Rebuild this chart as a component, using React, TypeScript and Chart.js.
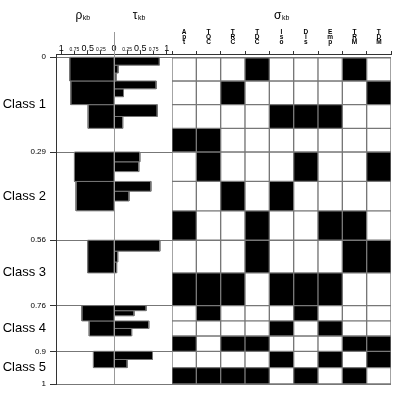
import React, { useEffect, useRef } from 'react';
import { Chart, registerables } from 'chart.js';

Chart.register(...registerables);

// ---- data ----
const classBounds = [0, 0.29, 0.56, 0.76, 0.9, 1];
const classNames = ['Class 1', 'Class 2', 'Class 3', 'Class 4', 'Class 5'];

// row boundaries (start, end) inside the classes
const rowStarts = [0, 0.0725, 0.145, 0.2175, 0.29, 0.38, 0.47, 0.56, 0.66, 0.76, 0.807, 0.853, 0.9, 0.95];
const rowEnds = [0.0725, 0.145, 0.2175, 0.29, 0.38, 0.47, 0.56, 0.66, 0.76, 0.807, 0.853, 0.9, 0.95, 1];

// rho per row (null = no bar)
const rhoValues = [0.84, 0.82, 0.49, null, 0.75, 0.72, null, 0.5, null, 0.61, 0.47, null, 0.39, null];

// tau per row: one sub-bar per category
const tauValues: number[][] = [
  [0.86, 0.08, 0.04],
  [0.8, 0.18, 0],
  [0.82, 0.165],
  [],
  [0.49, 0.47, 0],
  [0.7, 0.285, 0],
  [],
  [0.87, 0.07, 0.05],
  [],
  [0.61, 0.38, 0],
  [0.66, 0.335],
  [],
  [0.73, 0.25],
  [],
];

const sigmaCols = ['Apt', 'TOC', 'TRC', 'TDC', 'Iso', 'Dis', 'Emp', 'TRM', 'TDM'];
const sigmaRows = [
  [0, 0, 0, 1, 0, 0, 0, 1, 0],
  [0, 0, 1, 0, 0, 0, 0, 0, 1],
  [0, 0, 0, 0, 1, 1, 1, 0, 0],
  [1, 1, 0, 0, 0, 0, 0, 0, 0],
  [0, 1, 0, 0, 0, 1, 0, 0, 1],
  [0, 0, 1, 0, 1, 0, 0, 0, 0],
  [1, 0, 0, 1, 0, 0, 1, 1, 0],
  [0, 0, 0, 1, 0, 0, 0, 1, 1],
  [1, 1, 1, 0, 1, 1, 1, 0, 0],
  [0, 1, 0, 0, 0, 1, 0, 0, 0],
  [0, 0, 0, 0, 1, 0, 1, 0, 0],
  [1, 0, 1, 1, 0, 0, 0, 1, 1],
  [0, 0, 0, 0, 1, 0, 1, 0, 1],
  [1, 1, 1, 1, 0, 1, 0, 1, 0],
];

const probTicks = [0, 0.25, 0.5, 0.75, 1];
const minorTicks = [0.25, 0.75];

const FAMILY = "'Liberation Sans', Arial, Helvetica, sans-serif";

function rectData(v: number, y0: number, y1: number) {
  return [
    { x: 0, y: y0 },
    { x: v, y: y0 },
    { x: v, y: y1 },
    { x: 0, y: y1 },
    { x: 0, y: y0 },
  ];
}

export default function App() {
  const canvasRef = useRef<HTMLCanvasElement | null>(null);

  useEffect(() => {
    if (!canvasRef.current) return;
    Chart.defaults.font.family = FAMILY;
    Chart.defaults.color = '#000';

    // y ticks: class boundaries plus class midpoints
    const yTicks: { value: number; label: string; isClass: boolean }[] = [];
    classBounds.forEach((b, i) => {
      yTicks.push({ value: b, label: String(b), isClass: false });
      if (i < classNames.length) {
        yTicks.push({ value: (b + classBounds[i + 1]) / 2, label: classNames[i], isClass: true });
      }
    });

    const datasets: any[] = [];

    // rho bars
    rhoValues.forEach((v, i) => {
      if (v === null) return;
      datasets.push({
        type: 'line',
        xAxisID: 'xr',
        yAxisID: 'y',
        data: rectData(v, rowStarts[i], rowEnds[i]),
        fill: 'shape',
        backgroundColor: '#000',
        borderColor: '#777',
        borderWidth: 1,
        pointRadius: 0,
        tension: 0,
      });
    });

    // tau bars
    tauValues.forEach((vals, i) => {
      const n = vals.length;
      if (!n) return;
      const h = (rowEnds[i] - rowStarts[i]) / n;
      vals.forEach((v, j) => {
        datasets.push({
          type: 'line',
          xAxisID: 'xt',
          yAxisID: 'y',
          data: rectData(v, rowStarts[i] + j * h, rowStarts[i] + (j + 1) * h),
          fill: 'shape',
          backgroundColor: '#000',
          borderColor: '#777',
          borderWidth: 1,
          pointRadius: 0,
          tension: 0,
        });
      });
    });

    // sigma cells
    sigmaRows.forEach((row, i) => {
      datasets.push({
        type: 'bar',
        xAxisID: 'xs',
        yAxisID: 'y',
        data: sigmaCols.map(() => [rowStarts[i], rowEnds[i]]),
        backgroundColor: row.map((v) => (v ? '#000' : '#fff')),
        borderColor: '#777',
        borderWidth: 1,
        borderSkipped: false,
        grouped: false,
        barPercentage: 1,
        categoryPercentage: 1,
      });
    });

    const headerPlugin = {
      id: 'headers',
      afterDraw(chart: any) {
        const ctx = chart.ctx;
        const top = chart.chartArea.top;
        const items: [string, number][] = [
          ['\u03c1', chart.scales.xr.getPixelForValue(0.5) - 5],
          ['\u03c4', chart.scales.xt.getPixelForValue(0.5) - 1.5],
          ['\u03c3', (chart.scales.xs.left + chart.scales.xs.right) / 2],
        ];
        ctx.save();
        ctx.fillStyle = '#000';
        ctx.textBaseline = 'alphabetic';
        ctx.textAlign = 'left';
        for (const [letter, cx] of items) {
          ctx.font = `12px ${FAMILY}`;
          const w1 = ctx.measureText(letter).width;
          ctx.font = `7px ${FAMILY}`;
          const w2 = ctx.measureText('kb').width;
          const x0 = cx - (w1 + w2) / 2;
          ctx.font = `12px ${FAMILY}`;
          ctx.fillText(letter, x0, top - 35.5);
          ctx.font = `7px ${FAMILY}`;
          ctx.fillText('kb', x0 + w1 + 0.5, top - 34);
        }
        ctx.restore();
      },
    };

    const zeroLinePlugin = {
      id: 'zeroLine',
      afterDatasetsDraw(chart: any) {
        const ctx = chart.ctx;
        const x = Math.round(chart.scales.xt.getPixelForValue(0)) + 0.5;
        ctx.save();
        ctx.strokeStyle = '#999';
        ctx.lineWidth = 1;
        ctx.beginPath();
        ctx.moveTo(x, chart.chartArea.top - 22);
        ctx.lineTo(x, chart.chartArea.bottom);
        ctx.stroke();
        ctx.restore();
      },
    };

    const probAxis = (weight: number, reverse: boolean, hideZero: boolean) => ({
      type: 'linear',
      position: 'top',
      stack: 'top',
      stackWeight: weight,
      reverse,
      min: 0,
      max: 1.1,
      offset: false,
      afterBuildTicks: (s: any) => {
        s.ticks = probTicks.map((v) => ({ value: v }));
      },
      afterFit: (s: any) => {
        s.height = 54;
      },
      ticks: {
        autoSkip: false,
        maxRotation: 0,
        padding: 0,
        color: '#000',
        callback: (v: number) => (hideZero && v === 0 ? '' : String(v)),
        font: (c: any) => {
          const minor = c.tick && minorTicks.includes(c.tick.value);
          return { size: minor ? 5 : 9, lineHeight: 0.6 };
        },
      },
      grid: { display: true, offset: false, drawOnChartArea: false, tickLength: 3, color: '#333' },
      border: { display: true, color: '#333' },
    });

    // top axes are laid out in reverse order of declaration: sigma, tau, rho
    const chart = new Chart(canvasRef.current, {
      type: 'bar',
      data: { labels: sigmaCols.map((s) => s.split('')), datasets },
      plugins: [headerPlugin, zeroLinePlugin],
      options: {
        responsive: false,
        animation: false,
        layout: { padding: { top: 0, left: 0, right: 15, bottom: 22 } },
        plugins: { legend: { display: false }, tooltip: { enabled: false }, title: { display: false } },
        scales: {
          y: {
            type: 'linear',
            position: 'left',
            reverse: true,
            min: -0.01,
            max: 1,
            afterBuildTicks: (s: any) => {
              s.ticks = yTicks.map((t) => ({ value: t.value }));
            },
            afterFit: (s: any) => {
              s.width = 56;
            },
            ticks: {
              autoSkip: false,
              padding: 4,
              color: '#000',
              callback: (_v: number, i: number) => yTicks[i].label,
              font: (c: any) => (yTicks[c.index] && yTicks[c.index].isClass ? { size: 13 } : { size: 8 }),
            },
            grid: {
              offset: false,
              tickLength: 6,
              color: (c: any) => (yTicks[c.index] && !yTicks[c.index].isClass ? '#777' : 'rgba(0,0,0,0)'),
              tickColor: (c: any) => (yTicks[c.index] && !yTicks[c.index].isClass ? '#333' : 'rgba(0,0,0,0)'),
            },
            border: { display: true, color: '#333' },
          },
          xs: {
            type: 'category',
            position: 'top',
            stack: 'top',
            stackWeight: 219,
            offset: true,
            afterFit: (s: any) => {
              s.height = 54;
            },
            ticks: {
              autoSkip: false,
              maxRotation: 0,
              padding: 6,
              color: '#000',
              font: { size: 6.5, weight: 'bold', lineHeight: 0.8 },
            },
            grid: { offset: true, drawOnChartArea: false, tickLength: 3, color: '#333' },
            border: { display: true, color: '#333' },
          } as any,
          xt: probAxis(58, false, true) as any,
          xr: probAxis(58, true, false) as any,
        },
      } as any,
    });
    return () => chart.destroy();
  }, []);

  return (
    <div style={{ position: 'absolute', left: 0, top: 0, width: 406, height: 406, background: '#fff' }}>
      <canvas ref={canvasRef} width={406} height={406} style={{ width: 406, height: 406, display: 'block' }} />
    </div>
  );
}
